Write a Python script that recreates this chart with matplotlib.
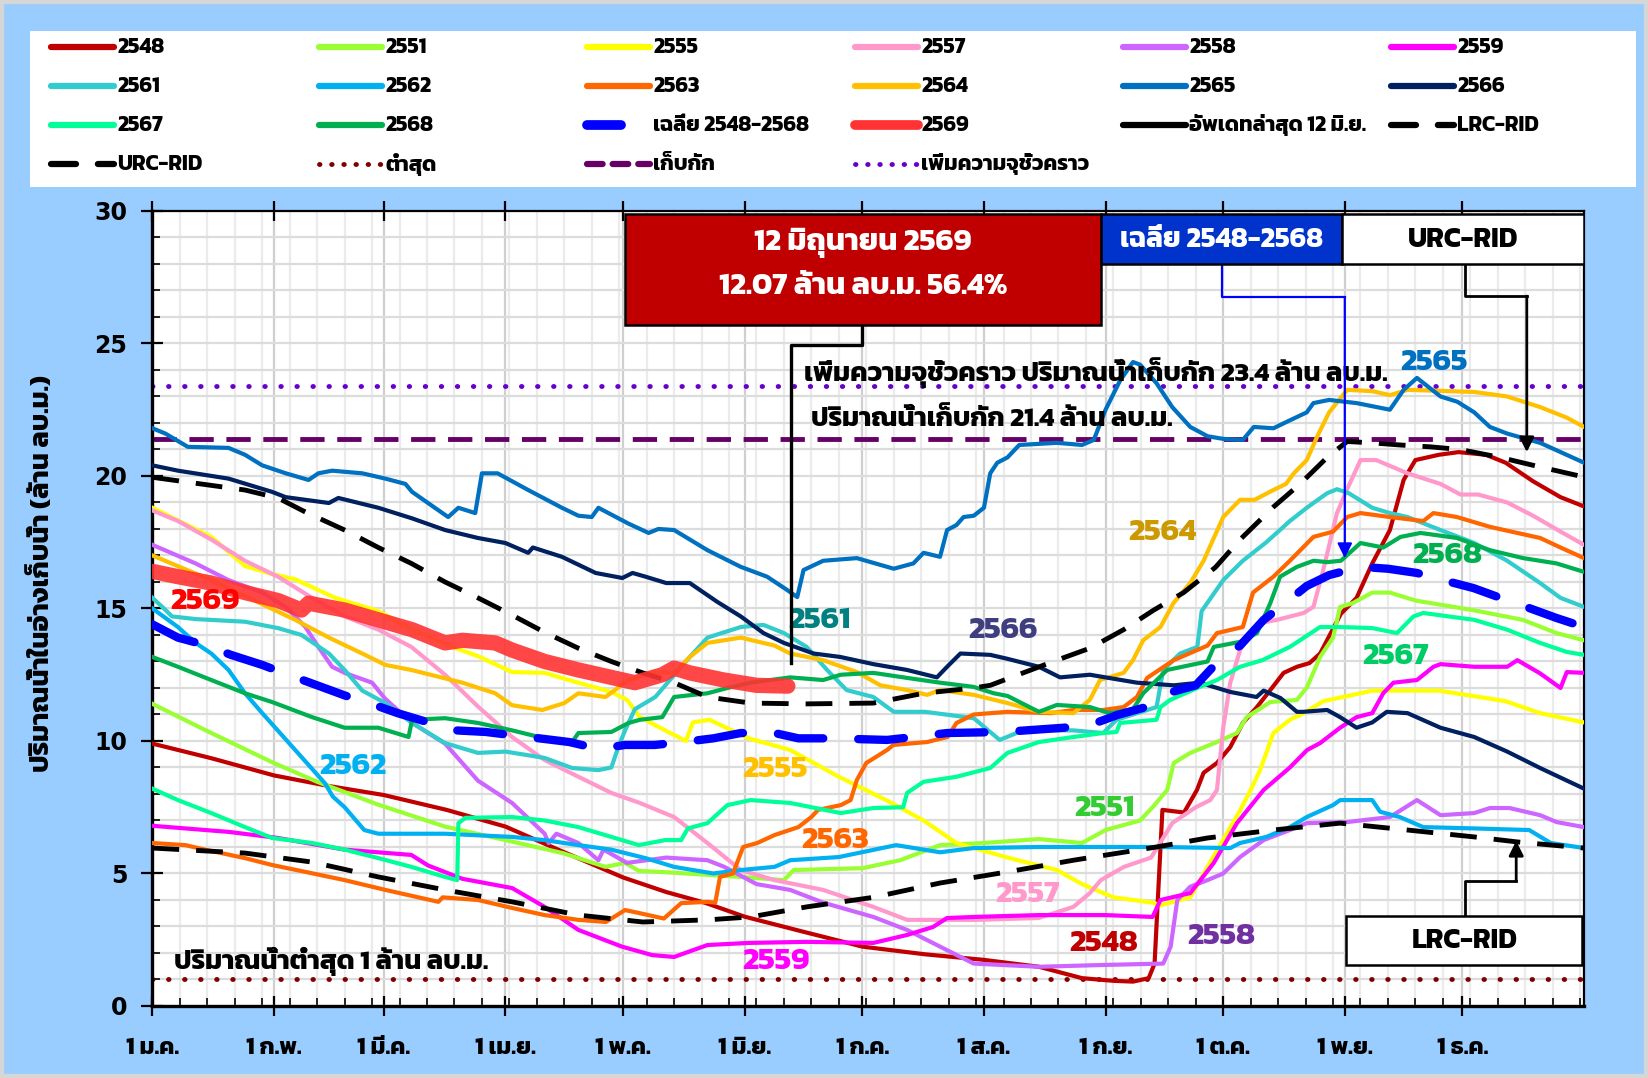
import matplotlib
matplotlib.use("Agg")
import matplotlib.pyplot as plt
from matplotlib.patches import Rectangle

FONT = ["Kanit", "Prompt", "Anuphan", "DejaVu Sans"]

MONTH_DAYS = [0, 31, 59, 90, 120, 151, 181, 212, 243, 273, 304, 334]
MONTH_LABELS = ["1 ม.ค.", "1 ก.พ.", "1 มี.ค.", "1 เม.ย.", "1 พ.ค.", "1 มิ.ย.",
                "1 ก.ค.", "1 ส.ค.", "1 ก.ย.", "1 ต.ค.", "1 พ.ย.", "1 ธ.ค."]

# day of year (0 = 1 Jan) and storage in million m3
D2548 = [0, 15, 31, 45, 59, 75, 90, 105, 120, 131, 141, 151, 166, 181, 197, 212, 226, 237, 245, 250,
         254, 255.5, 257.5, 263, 266.3, 268, 271.4, 274.8, 278, 281.6, 285, 288.4, 291.8, 295, 297.7, 303, 307,
         311, 315.5, 319, 322, 328, 333, 340, 345, 352, 359, 365]
V2548 = [9.9, 9.35, 8.7, 8.3, 7.96, 7.4, 6.77, 5.8, 4.85, 4.3, 3.89, 3.37, 2.8, 2.24, 1.95, 1.74, 1.48, 1.05, 0.95, 0.92,
         1.05, 1.6, 7.4, 7.3, 8.15, 8.8, 9.17, 9.77, 10.68, 11.28, 11.92, 12.57, 12.8, 12.94, 13.3, 14.8, 15.4,
         16.7, 17.96, 19.85, 20.6, 20.8, 20.9, 20.8, 20.5, 19.8, 19.2, 18.85]

D2551 = [0, 15, 30.5, 42, 57.5, 74.6, 90, 104.6, 115.5, 120.5, 124, 130.7, 150, 161, 163.5, 181, 190.6, 200.8,
         212, 226, 237, 243, 251.8, 255, 258.7, 260.4, 264.6, 271.4, 276.5, 279, 285, 291.8, 294.4, 297.7, 301,
         302.8, 306, 311, 315.5, 322, 336.6, 349.4, 358, 365]
V2551 = [11.4, 10.3, 9.2, 8.46, 7.6, 6.77, 6.26, 5.77, 5.25, 5.4, 5.1, 5.05, 4.87, 4.75, 5.13, 5.2, 5.5, 6.07,
         6.15, 6.3, 6.15, 6.64, 7.0, 7.5, 8.15, 9.17, 9.55, 9.96, 10.3, 10.9, 11.47, 11.55, 12.04, 13.17, 13.9,
         15.06, 15.2, 15.6, 15.6, 15.3, 14.94, 14.57, 14.07, 13.8]

D2555 = [0, 15, 23.6, 30.5, 36.4, 46.6, 57.6, 66.3, 76.5, 83, 91.7, 100, 108.5, 117, 121, 124.3, 130.7, 136,
         137.8, 142, 152, 162.6, 175, 188, 196.6, 205, 218, 230.6, 237, 245, 255, 257, 264.6, 269, 277, 280,
         282.4, 285.8, 290, 293.5, 298.5, 311, 328, 345, 353.8, 365]
V2555 = [18.8, 17.7, 16.6, 16.3, 16.1, 15.4, 14.9, 14.2, 13.55, 13.2, 12.6, 12.57, 12.2, 11.85, 11.55, 10.9, 10.4, 10.0,
         10.7, 10.8, 10.1, 9.66, 8.65, 7.7, 7.0, 6.15, 5.6, 5.13, 4.6, 4.1, 3.9, 3.8, 4.1, 5.25, 7.3, 8.15,
         8.9, 10.3, 10.8, 11.05, 11.5, 11.9, 11.9, 11.5, 11.05, 10.7]

D2557 = [0, 6.5, 15, 23.6, 32, 40.7, 49, 57.6, 66, 74.6, 83, 91.7, 100, 108.6, 117, 124.3, 133, 141.5, 150,
         158.6, 171, 183.8, 192.4, 210, 226, 234.8, 239, 241.8, 247.7, 254.6, 260, 266, 269.7, 271.4, 273,
         274.8, 277.3, 280, 282.4, 286.7, 293.5, 296, 298.5, 302, 304.6, 308, 312, 320, 328.4, 333.5, 338,
         345.4, 352, 359, 365]
V2557 = [18.7, 18.3, 17.6, 16.8, 16.2, 15.4, 14.7, 14.2, 13.55, 12.5, 11.3, 10.15, 9.28, 8.65, 8.04, 7.66, 7.13, 6.15, 5.13,
         4.75, 4.38, 3.74, 3.25, 3.25, 3.32, 3.74, 4.26, 4.75, 5.25, 5.6, 6.9, 7.5, 7.77, 8.15, 10.5,
         12.2, 13.43, 14.07, 14.45, 14.57, 14.83, 15.06, 16.45, 18.6, 19.5, 20.6, 20.6, 20.1, 19.7, 19.3, 19.3,
         19.0, 18.5, 17.9, 17.4]

D2558 = [0, 11, 19.4, 28, 34, 39, 42.3, 45.8, 49, 56, 59.3, 66, 74.6, 83, 91.7, 100, 101, 103, 108.6, 113.7,
         115, 121, 131, 141.5, 145.8, 154, 162.6, 171, 183.8, 192.4, 200.8, 209.4, 226, 243, 257.7, 259.6,
         261.3, 264.6, 269, 273, 277.3, 283.3, 290, 294.3, 304.6, 315.5, 322.4, 328.4, 337, 341, 346, 353.8,
         358, 365]
V2558 = [17.4, 16.7, 16.07, 15.6, 15.06, 14.3, 13.55, 12.8, 12.57, 12.2, 11.6, 10.7, 9.9, 8.5, 7.66, 6.5, 6.15, 6.5, 6.15, 5.5,
         5.9, 5.4, 5.6, 5.5, 5.25, 4.6, 4.38, 3.9, 3.36, 2.87, 2.24, 1.6, 1.48, 1.55, 1.6, 2.24,
         4.0, 4.5, 4.75, 5.0, 5.62, 6.26, 6.64, 6.9, 6.94, 7.13, 7.77, 7.2, 7.28, 7.47, 7.47, 7.2,
         6.94, 6.75]

D2559 = [0, 19.4, 32, 49, 66, 70.3, 79, 91.7, 100, 108.6, 119.7, 127.4, 133, 141.5, 152, 166.8, 183.8, 192.4,
         199, 202.6, 209.4, 226, 243, 255, 257, 264.6, 270.6, 276.5, 283.3, 290, 294.4, 297.7, 302.8, 307, 311,
         313.8, 316.4, 322.4, 326.6, 328.4, 337, 345.4, 348, 353.8, 359, 360.6, 365]
V2559 = [6.8, 6.57, 6.34, 5.9, 5.7, 5.3, 4.8, 4.45, 3.74, 2.87, 2.24, 1.92, 1.85, 2.3, 2.38, 2.42, 2.38, 2.68,
         2.98, 3.32, 3.36, 3.43, 3.43, 3.36, 4.0, 4.26, 5.4, 6.9, 8.15, 9.0, 9.66, 9.92, 10.5, 10.9, 11.05,
         11.8, 12.2, 12.3, 12.8, 12.9, 12.8, 12.8, 13.05, 12.55, 12.0, 12.6, 12.57]

D2561 = [0, 2.5, 5, 11, 23.6, 32, 38, 45, 49, 53.5, 59.4, 66, 74.6, 83, 90, 100, 107, 113.7, 117, 118.8,
         120.5, 123, 128.2, 137, 141.5, 150, 155.8, 161, 166.8, 172, 177, 183.8, 189, 197, 209.4, 216, 222,
         234.8, 242.4, 245.8, 256, 257.7, 262, 266.4, 267.5, 273, 278, 284, 290, 294.3, 299.5, 302, 305, 311,
         315.5, 320, 328.4, 337, 345.4, 353.8, 359, 365]
V2561 = [15.4, 15.06, 14.7, 14.6, 14.5, 14.26, 14.0, 13.3, 12.68, 11.9, 11.43, 10.7, 9.92, 9.55, 9.6, 9.36, 8.98, 8.9, 9.0, 9.78,
         10.4, 11.2, 11.66, 13.17, 13.9, 14.3, 14.38, 14.07, 13.55, 12.68, 11.92, 11.66, 11.1, 11.1, 10.86, 10.04, 10.4,
         10.4, 10.3, 10.8, 11.28, 12.68, 13.3, 13.55, 14.9, 16.07, 16.8, 17.5, 18.3, 18.8, 19.35, 19.5, 19.35, 18.8,
         18.6, 18.45, 17.96, 17.47, 16.8, 15.96, 15.4, 15.06]

D2562 = [0, 6.5, 11, 15, 19.4, 23.6, 28, 36.4, 44, 46, 49, 54, 57.6, 74.6, 91.7, 100, 108.6, 117, 125.7, 133,
         143, 150, 158.6, 162.6, 175, 189.6, 200.8, 209.4, 226, 256, 274.8, 277.3, 284, 290, 294.3, 301,
         302.8, 311, 313, 318, 324, 337, 351, 356.5, 365]
V2562 = [15.0, 14.3, 13.7, 13.3, 12.68, 11.8, 11.05, 9.66, 8.4, 7.9, 7.5, 6.64, 6.5, 6.5, 6.38, 6.26, 6.07, 5.9, 5.58, 5.25,
         5.0, 5.13, 5.25, 5.5, 5.62, 6.07, 5.8, 5.96, 6.0, 6.0, 5.96, 6.15, 6.38, 6.75, 7.13, 7.58,
         7.77, 7.77, 7.33, 7.13, 6.75, 6.7, 6.64, 6.15, 5.96]

D2563 = [0, 8.4, 13.4, 23.6, 30.5, 39, 49, 59.4, 72.9, 74, 83, 91.7, 100, 108.6, 115.6, 120.5, 124.3, 130.4,
         134.8, 141.5, 143.5, 144.7, 148, 150.6, 154.2, 158.6, 164.7, 168, 169.7, 175.5, 178, 179.6, 182,
         187.3, 188.9, 197.5, 202.7, 205, 209.4, 218, 229, 234.8, 242.4, 247.6, 251, 253.6, 260.4, 269, 271.4,
         278, 280.6, 285.8, 290, 296, 301, 304.6, 308, 315.5, 324, 326.6, 332.6, 341, 348, 353.8, 359, 365]
V2563 = [6.15, 6.07, 5.9, 5.58, 5.32, 5.06, 4.75, 4.38, 3.93, 4.1, 4.0, 3.7, 3.43, 3.25, 3.17, 3.62, 3.5, 3.3,
         3.88, 3.93, 3.9, 4.87, 5.0, 6.0, 6.15, 6.45, 6.75, 7.13, 7.4, 7.58, 7.77, 8.53, 9.17,
         9.66, 9.85, 9.96, 10.15, 10.68, 11.0, 11.1, 11.05, 11.17, 11.17, 11.28, 11.66, 12.38, 13.05, 13.6, 14.07,
         14.3, 15.6, 16.2, 16.8, 17.7, 17.9, 18.45, 18.6, 18.45, 18.3, 18.6, 18.45, 18.08, 17.85, 17.66, 17.3, 16.9]

D2564 = [0, 15, 26, 36.4, 45, 53.5, 59.4, 66, 79, 87.4, 91.7, 99.4, 105, 108.6, 115.5, 121.4, 128, 133, 137,
         141.5, 150, 158.6, 162.6, 171, 179.6, 185.6, 192.4, 197.5, 200.8, 209.4, 218, 226, 234.8, 239, 241.6,
         247.6, 250, 252.6, 257, 260.3, 264.6, 268, 273, 277.3, 281, 285.8, 289, 291, 294.3, 297, 300, 304.6, 311,
         315.5, 320, 337, 345.4, 353.8, 360.6, 365]
V2564 = [17.0, 16.07, 15.3, 14.57, 13.9, 13.3, 12.87, 12.68, 12.2, 11.8, 11.35, 11.17, 11.43, 11.8, 11.66, 12.3, 12.6, 12.57, 13.17,
         13.7, 13.9, 13.6, 13.3, 13.05, 12.6, 12.1, 11.92, 11.74, 11.92, 11.74, 11.43, 11.1, 11.05, 11.55, 12.3,
         12.57, 13.05, 13.8, 14.3, 15.2, 15.96, 16.8, 18.45, 19.1, 19.1, 19.47, 19.7, 20.1, 20.6, 21.5, 22.4, 23.25, 23.2,
         23.05, 23.25, 23.17, 23.0, 22.6, 22.2, 21.85]

D2565 = [0, 3.3, 9, 19.4, 23.6, 28, 34, 39.8, 42.3, 45.8, 53.5, 59.4, 64.5, 66.2, 72, 75.4, 78, 82.3, 84, 88,
         95.8, 104.4, 108.6, 112, 113.7, 121.4, 126.5, 129, 133, 141.5, 150, 156.7, 161.8, 164.4, 166, 171,
         179.6, 189, 194, 196.6, 200.8, 202.6, 205, 206.8, 209.4, 212, 213.6, 215.4, 218, 221, 230.6, 237,
         240, 243, 246.7, 250, 251.8, 256, 260, 264.6, 269, 273, 278, 280.8, 285.8, 290, 294.3, 296, 300,
         307, 315.5, 319, 322.4, 328.4, 332.7, 337, 341, 345.4, 353.8, 365]
V2565 = [21.8, 21.6, 21.1, 21.06, 20.8, 20.4, 20.1, 19.85, 20.1, 20.2, 20.1, 19.9, 19.7, 19.4, 18.8, 18.45, 18.8, 18.6, 20.1, 20.1,
         19.47, 18.8, 18.5, 18.45, 18.8, 18.2, 17.85, 18.0, 17.96, 17.2, 16.57, 16.2, 15.7, 15.43, 16.45, 16.8,
         16.9, 16.5, 16.7, 17.1, 16.95, 17.96, 18.15, 18.45, 18.5, 18.8, 20.1, 20.5, 20.7, 21.17, 21.25, 21.17,
         21.36, 22.5, 23.6, 24.3, 24.2, 23.5, 22.6, 21.85, 21.5, 21.4, 21.36, 21.85, 21.8, 22.1, 22.4, 22.75, 22.87,
         22.75, 22.5, 23.25, 23.7, 23.0, 22.8, 22.4, 21.85, 21.6, 21.25, 20.5]

D2566 = [0, 6.5, 19.4, 30.5, 34, 45, 47.4, 57.6, 66.2, 74.6, 83, 90, 95.8, 97, 104.4, 113, 119.8, 122.4, 125.7,
         131, 137, 144, 150, 155.8, 161, 168.6, 175.4, 183.8, 192.4, 200, 202.6, 206, 213.6, 218, 226, 231.4,
         239, 251, 260.4, 267, 274.8, 281.5, 283.3, 287.6, 291.8, 293.4, 299.5, 302.8, 307, 311, 314.7, 320,
         328.4, 337, 345.4, 353.8, 365]
V2566 = [20.4, 20.2, 19.9, 19.4, 19.2, 18.98, 19.17, 18.8, 18.4, 17.96, 17.66, 17.47, 17.1, 17.3, 16.95, 16.34, 16.15, 16.34, 16.2,
         15.96, 15.96, 15.25, 14.7, 14.07, 13.7, 13.3, 13.17, 12.9, 12.68, 12.4, 12.8, 13.3, 13.25, 13.1, 12.8, 12.4,
         12.5, 12.2, 12.1, 12.2, 11.85, 11.66, 11.9, 11.62, 11.1, 11.1, 11.17, 10.9, 10.5, 10.7, 11.1, 11.05,
         10.5, 10.15, 9.6, 8.98, 8.2]

D2567 = [0, 6.5, 15, 23.6, 30.5, 40.7, 49, 57.6, 66, 74.6, 77.7, 78, 79.8, 91.7, 100, 108.6, 117, 124, 130.7,
         134.8, 136.5, 141.5, 146.6, 152.5, 162.6, 175.5, 183.8, 191.4, 192.4, 196.6, 205, 213.6, 218, 226,
         234.8, 242.4, 245.8, 246.7, 256, 257, 259.5, 267, 271.4, 277.3, 283, 290, 297.7, 302.8, 311, 317.3,
         321.5, 324, 337, 345.4, 353.8, 360.6, 365]
V2567 = [8.2, 7.77, 7.28, 6.75, 6.34, 6.15, 5.9, 5.58, 5.25, 4.87, 4.75, 6.9, 7.1, 7.13, 7.0, 6.75, 6.38, 6.07, 6.26,
         6.26, 6.7, 6.9, 7.58, 7.77, 7.66, 7.28, 7.47, 7.5, 8.04, 8.46, 8.65, 8.98, 9.55, 9.96,
         10.15, 10.3, 10.34, 10.68, 10.8, 11.28, 11.55, 12.04, 12.3, 12.8, 13.05, 13.55, 14.3, 14.3, 14.26, 14.07,
         14.7, 14.83, 14.57, 14.2, 13.7, 13.36, 13.25]

D2568 = [0, 6.5, 15, 23.6, 30.5, 40.7, 49, 57.6, 65.3, 66.2, 74.6, 83, 91.7, 100, 107, 108.6, 117, 121.4, 124.3,
         130, 133, 141.5, 146.6, 152.5, 162.6, 171, 175.5, 183.8, 192.4, 200.8, 209.4, 214.5, 218, 226, 230.6,
         239, 244, 250, 252.6, 258.7, 269, 270.6, 277.3, 281.6, 285, 287.5, 291.8, 296, 299.5, 303, 308, 313.8,
         318.2, 323.3, 332.6, 341, 349.5, 358, 365]
V2568 = [13.17, 12.8, 12.3, 11.8, 11.47, 10.9, 10.5, 10.5, 10.15, 10.8, 10.86, 10.68, 10.4, 10.1, 9.96, 10.3, 10.34, 10.68, 10.8,
         10.9, 11.66, 11.8, 12.0, 12.2, 12.4, 12.3, 12.5, 12.57, 12.38, 12.2, 12.04, 11.8, 11.7, 11.1, 11.36,
         11.28, 11.05, 11.2, 11.8, 12.68, 13.0, 13.55, 13.74, 14.07, 15.2, 16.2, 16.57, 16.8, 16.75, 16.8, 17.47, 17.3,
         17.7, 17.85, 17.66, 17.2, 16.9, 16.7, 16.38]

D2569 = [0, 6.5, 15, 23.6, 32, 38, 39.8, 49, 57.6, 66.2, 74.6, 79, 87.4, 91.7, 100, 108.6, 117, 123, 130, 133,
         137, 145.7, 154, 162]
V2569 = [16.4, 16.2, 15.96, 15.6, 15.3, 14.94, 15.2, 14.94, 14.57, 14.2, 13.7, 13.8, 13.7, 13.43, 13.0, 12.68, 12.4, 12.2, 12.5, 12.75,
         12.57, 12.3, 12.1, 12.07]

D_AVG = [0, 6.5, 14, 20, 28, 34.6, 42, 49, 56.6, 62.5, 70.4, 77.3, 85, 91, 98.6, 106.3, 113.8, 120.5, 128, 135.3,
         143, 150, 158.6, 164.7, 173, 187.3, 194, 202.6, 217, 232.3, 239, 246, 252.6, 260, 266, 272, 277.3,
         283.3, 287.6, 294.3, 300, 308, 315, 322.4, 329, 336.8, 343.7, 351.3, 358, 365]
V_AVG = [14.4, 13.9, 13.6, 13.25, 12.87, 12.5, 12.1, 11.72, 11.36, 11.05, 10.7, 10.4, 10.34, 10.23, 10.1, 9.96, 9.7, 9.85, 9.85, 9.96,
         10.1, 10.3, 10.3, 10.1, 10.1, 10.04, 10.15, 10.3, 10.34, 10.5, 10.6, 10.98, 11.25, 11.85, 12.1, 13.05, 13.6,
         14.57, 15.06, 15.85, 16.26, 16.57, 16.5, 16.34, 16.07, 15.77, 15.4, 15.0, 14.64, 14.3]

D_URC = [0, 23.6, 32, 39, 49, 57.6, 66, 74.6, 83, 91.7, 100, 108.6, 117, 125, 133, 141.5, 152.5, 166.8, 183.8,
         196.6, 209.4, 213.6, 222, 230.6, 239, 247.6, 255.3, 262.9, 271, 277.3, 285.8, 292.6, 299.5, 304.6, 311,
         318, 325.7, 333.4, 343.6, 353.8, 365]
V_URC = [19.95, 19.47, 19.17, 18.64, 17.96, 17.3, 16.7, 16.0, 15.4, 14.75, 14.1, 13.5, 13.0, 12.57, 12.2, 11.66, 11.43, 11.4, 11.43,
         11.8, 12.0, 12.1, 12.57, 13.05, 13.5, 14.2, 14.94, 15.6, 16.55, 17.6, 18.83, 19.7, 20.7, 21.3, 21.25,
         21.17, 21.1, 21.0, 20.7, 20.34, 19.96]

D_LRC = [0, 23.6, 40.7, 57.6, 74.6, 91.7, 108.6, 125, 141.5, 152.5, 166.8, 183.8, 200.8, 218, 234.8, 251.8, 256,
         269, 285.8, 302.8, 320, 337, 348, 365]
V_LRC = [5.96, 5.77, 5.43, 4.87, 4.38, 3.93, 3.43, 3.17, 3.25, 3.36, 3.74, 4.1, 4.64, 5.06, 5.5, 5.9, 6.0,
         6.34, 6.64, 6.9, 6.64, 6.38, 6.19, 5.96]

MIN_LEVEL = 1.0
STORAGE_LEVEL = 21.4
TEMP_LEVEL = 23.4
UPDATE_DAY = 162

YEARS = ["2548", "2551", "2555", "2557", "2558", "2559", "2561", "2562", "2563", "2564", "2565", "2566", "2567", "2568"]
YEAR_COLORS = ["#C00000", "#99FF33", "#FFFF00", "#FF99CC", "#CC66FF", "#FF00FF", "#33CCCC", "#00B0F0",
               "#FF6600", "#FFC000", "#0070C0", "#002060", "#00FF99", "#00B050"]
YEAR_DATA = [(D2548, V2548), (D2551, V2551), (D2555, V2555), (D2557, V2557), (D2558, V2558), (D2559, V2559),
             (D2561, V2561), (D2562, V2562), (D2563, V2563), (D2564, V2564), (D2565, V2565), (D2566, V2566),
             (D2567, V2567), (D2568, V2568)]

# in-chart year labels: text, day, value, colour
YEAR_TAGS = [("2569", 13.4, 15.28, "#FF0000"), ("2562", 51, 9.05, "#00B0F0"), ("2555", 158.7, 8.93, "#FFC000"),
             ("2561", 170, 14.56, "#008080"), ("2566", 216.9, 14.17, "#3F3F7F"), ("2563", 174, 6.23, "#FF6600"),
             ("2551", 242.6, 7.46, "#33CC33"), ("2557", 223, 4.2, "#FF99CC"), ("2548", 242.6, 2.34, "#C00000"),
             ("2558", 272.6, 2.62, "#7030A0"), ("2559", 159, 1.67, "#FF00FF"), ("2564", 257.6, 17.86, "#CC9900"),
             ("2565", 326.8, 24.3, "#0070C0"), ("2568", 330, 17.0, "#00B050"), ("2567", 317, 13.2, "#00CC66")]


def main() -> None:
    plt.rcParams["font.family"] = FONT
    plt.rcParams["font.weight"] = "bold"

    fig = plt.figure(figsize=(16.48, 10.78), dpi=100, facecolor="#99CCFF")
    fig.patches.append(Rectangle((0, 0), 1, 1, transform=fig.transFigure, fill=False,
                                 edgecolor="#D6D6D6", lw=6))

    ax = fig.add_axes([0.0925, 0.0668, 0.8687, 0.7375])
    ax.set_facecolor("white")
    ax.set_xlim(0, 365)
    ax.set_ylim(0, 30)

    for year, color, (days, vals) in zip(YEARS, YEAR_COLORS, YEAR_DATA):
        ax.plot(days, vals, color=color, lw=3, zorder=3, solid_joinstyle="round")
    ax.plot(D_URC, V_URC, color="black", lw=3.5, ls=(0, (5.5, 3.5)), zorder=4)
    ax.plot(D_LRC, V_LRC, color="black", lw=3.5, ls=(0, (5.5, 3.5)), zorder=4)
    ax.plot(D_AVG, V_AVG, color="#0000FF", lw=6, ls=(0, (5.5, 4.2)), dash_capstyle="round", zorder=4)
    ax.plot(D2569, V2569, color="#FF3333", lw=11, alpha=0.9, solid_capstyle="round", zorder=5)

    ax.axhline(TEMP_LEVEL, color="#6600CC", lw=3.5, ls=(0, (0.1, 3.2)), dash_capstyle="round", zorder=2)
    ax.axhline(STORAGE_LEVEL, color="#660066", lw=3.5, ls=(0, (5, 2.6)), zorder=2)
    ax.axhline(MIN_LEVEL, color="#800000", lw=3.5, ls=(0, (0.1, 3.2)), dash_capstyle="round", zorder=2)

    # axes, ticks and grid
    ax.set_xticks(MONTH_DAYS)
    ax.set_xticklabels(MONTH_LABELS)
    ax.set_xticks(range(0, 366, 7), minor=True)
    ax.set_yticks(range(0, 31, 5))
    ax.set_yticks(range(0, 31), minor=True)
    ax.grid(which="major", axis="x", color="#CFCFCF", lw=1.6, zorder=0)
    ax.grid(which="minor", axis="x", color="#EBEBEB", lw=1.6, zorder=0)
    ax.grid(which="both", axis="y", color="#DCDCDC", lw=1.6, zorder=0)
    ax.set_axisbelow(True)
    ax.tick_params(axis="x", which="major", direction="inout", length=14, width=1.6, pad=15,
                   labelsize=17, top=True)
    ax.tick_params(axis="x", which="minor", direction="in", length=6, width=1.2)
    ax.tick_params(axis="y", which="major", direction="inout", length=16, width=1.6, pad=10)
    ax.tick_params(axis="y", which="minor", direction="in", length=6, width=1.2)
    for lab in ax.get_yticklabels():
        lab.set_fontfamily("DejaVu Sans")
        lab.set_fontsize(17)
        lab.set_fontweight("bold")
    for side in ("left", "bottom"):
        ax.spines[side].set_linewidth(2.4)
    for side in ("top", "right"):
        ax.spines[side].set_linewidth(1.6)
    fig.text(0.0255, 0.4675, "ปริมาณน้ำในอ่างเก็บน้ำ (ล้าน ลบ.ม.)", rotation=90, ha="center", va="center",
             fontsize=19.5, fontweight="bold")

    # level texts
    ax.text(240.5, 23.9, "เพิ่มความจุชั่วคราว ปริมาณน้ำเก็บกัก 23.4 ล้าน ลบ.ม.", ha="center", va="center",
            fontsize=19.5, zorder=6)
    ax.text(214, 22.1, "ปริมาณน้ำเก็บกัก 21.4 ล้าน ลบ.ม.", ha="center", va="center", fontsize=19.5, zorder=6)
    ax.text(5.4, 1.67, "ปริมาณน้ำต่ำสุด 1 ล้าน ลบ.ม.", ha="left", va="center", fontsize=19.5, zorder=6)

    for text, day, val, color in YEAR_TAGS:
        ax.text(day, val, text, color=color, ha="center", va="center", fontsize=22.5, zorder=6)

    # latest update box and connector
    ax.add_patch(Rectangle((120.4, 25.71), 121.4, 4.17, facecolor="#C00000", edgecolor="black", lw=1.8, zorder=7))
    ax.text(181.1, 28.8, "12 มิถุนายน 2569", color="white", ha="center", va="center", fontsize=22, zorder=8)
    ax.text(181.1, 27.15, "12.07 ล้าน ลบ.ม. 56.4%", color="white", ha="center", va="center", fontsize=22, zorder=8)
    ax.plot([181, 181, UPDATE_DAY + 0.7, UPDATE_DAY + 0.7], [25.71, 24.96, 24.96, 12.95], color="black", lw=2.4,
            zorder=6)

    # average box and arrow
    ax.add_patch(Rectangle((241.8, 27.98), 61.5, 1.9, facecolor="#0033CC", edgecolor="black", lw=1.8, zorder=7))
    ax.text(272.5, 28.9, "เฉลี่ย 2548-2568", color="white", ha="center", va="center", fontsize=20, zorder=8)
    ax.plot([272.7, 272.7, 304], [27.98, 26.75, 26.75], color="#0000FF", lw=1.6, zorder=6)
    ax.annotate("", xy=(304, 16.9), xytext=(304, 26.75), zorder=6,
                arrowprops=dict(arrowstyle="-|>", color="#0000FF", lw=1.6, mutation_scale=22,
                                shrinkA=0, shrinkB=0))

    # URC box and arrow
    ax.add_patch(Rectangle((303.3, 27.98), 61.7, 1.9, facecolor="white", edgecolor="black", lw=1.8, zorder=7))
    ax.text(334.2, 28.9, "URC-RID", color="black", ha="center", va="center", fontsize=20, zorder=8)
    ax.plot([334.6, 334.6, 350.4], [27.98, 26.79, 26.79], color="black", lw=2.0, zorder=6)
    ax.annotate("", xy=(350.4, 20.9), xytext=(350.4, 26.79), zorder=6,
                arrowprops=dict(arrowstyle="-|>", color="black", lw=2.0, mutation_scale=22,
                                shrinkA=0, shrinkB=0))

    # LRC box and arrow
    ax.add_patch(Rectangle((304.3, 1.55), 60.3, 1.86, facecolor="white", edgecolor="black", lw=1.8, zorder=7))
    ax.text(334.5, 2.45, "LRC-RID", color="black", ha="center", va="center", fontsize=20, zorder=8)
    ax.plot([334.6, 334.6, 347.7], [3.41, 4.72, 4.72], color="black", lw=2.0, zorder=6)
    ax.annotate("", xy=(347.7, 6.23), xytext=(347.7, 4.72), zorder=6,
                arrowprops=dict(arrowstyle="-|>", color="black", lw=2.0, mutation_scale=22,
                                shrinkA=0, shrinkB=0))

    # legend drawn in its own white panel, row by row
    lax = fig.add_axes([0.018, 0.8265, 0.975, 0.145])
    lax.set_facecolor("white")
    lax.set_xlim(0, 1)
    lax.set_ylim(0, 1)
    lax.set_xticks([])
    lax.set_yticks([])
    for s in lax.spines.values():
        s.set_visible(False)

    entries = [(y, c, "-", 4.5) for y, c in zip(YEARS, YEAR_COLORS)]
    entries.insert(14, ("เฉลี่ย 2548-2568", "#0000FF", (0, (3.5, 3)), 7))
    entries.insert(15, ("2569", "#FF3333", "-", 7))
    entries.insert(16, ("อัพเดทล่าสุด 12 มิ.ย.", "black", "-", 4.5))
    entries.insert(17, ("LRC-RID", "black", (0, (4, 3.5)), 4.5))
    entries += [("URC-RID", "black", (0, (4, 3.5)), 4.5),
                ("ต่ำสุด", "#800000", (0, (0.1, 2.4)), 3.5),
                ("เก็บกัก", "#660066", (0, (2.5, 1.6)), 4.5),
                ("เพิ่มความจุชั่วคราว", "#6600CC", (0, (0.1, 2.4)), 3.5)]
    rows_y = [0.893, 0.644, 0.396, 0.147]
    for i, (label, color, ls, lw) in enumerate(entries):
        r, c = divmod(i, 6)
        x0 = 0.0131 + c * 0.1668
        lax.plot([x0, x0 + 0.0392], [rows_y[r], rows_y[r]], color=color, ls=ls, lw=lw,
                 solid_capstyle="round", dash_capstyle="round")
        lax.text(x0 + 0.0415, rows_y[r], label, ha="left", va="center", fontsize=15.5)

    fig.savefig("out.png", dpi=100, facecolor=fig.get_facecolor())
    plt.close(fig)


if __name__ == "__main__":
    main()
